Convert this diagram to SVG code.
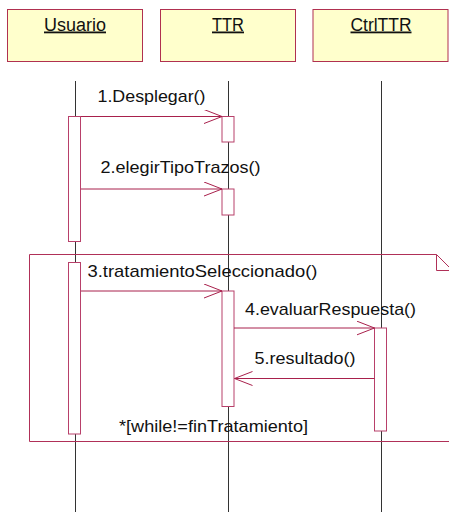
<svg xmlns="http://www.w3.org/2000/svg" width="449" height="512" viewBox="0 0 449 512">
<style>
.obj{fill:#FFFFCC;stroke:#B03050;stroke-width:1}
.life{stroke:#333333;stroke-width:1;fill:none}
.act{fill:#FFFFFF;stroke:#B8406A;stroke-width:1}
.msg{stroke:#A8204C;stroke-width:1;fill:none}
.frame{stroke:#B03058;stroke-width:1;fill:none}
text{font-family:"Liberation Sans",Arial,sans-serif;font-size:17px;fill:#111111}
.hd{font-size:18px;text-decoration:underline}
</style>
<defs>
<marker id="open" markerWidth="20" markerHeight="16" refX="18" refY="7" orient="auto" markerUnits="userSpaceOnUse">
<path d="M0,0 L18,7 L0,14" fill="none" stroke="#A8204C" stroke-width="1"/>
</marker>
</defs>
<g id="Usuario">
<rect class="obj" x="7.5" y="9.5" width="135" height="52"/>
<text class="hd" x="75" y="30.5" text-anchor="middle" textLength="62" lengthAdjust="spacingAndGlyphs">Usuario</text>
</g>
<g id="TTR">
<rect class="obj" x="160.5" y="9.5" width="135" height="52"/>
<text class="hd" x="228" y="30.5" text-anchor="middle" textLength="32" lengthAdjust="spacingAndGlyphs">TTR</text>
</g>
<g id="CtrlTTR">
<rect class="obj" x="313" y="9.5" width="135" height="52"/>
<text class="hd" x="381" y="30.5" text-anchor="middle" textLength="61" lengthAdjust="spacingAndGlyphs">CtrlTTR</text>
</g>
<g id="lifelines">
<line class="life" x1="75.5" y1="81" x2="75.5" y2="512"/>
<line class="life" x1="228.5" y1="81" x2="228.5" y2="512"/>
<line class="life" x1="381.5" y1="81" x2="381.5" y2="512"/>
</g>
<g id="loop">
<path class="frame" d="M29.5,254.5 H436.5 V270.5 H449 M436.5,254.5 L449,267 M29.5,254.5 V441.5 H449"/>
<text x="119" y="432" textLength="189" lengthAdjust="spacingAndGlyphs">*[while!=finTratamiento]</text>
</g>
<g id="activations">
<rect class="act" x="68.5" y="116.5" width="12" height="125"/>
<rect class="act" x="222" y="116.5" width="12" height="25.5"/>
<rect class="act" x="222" y="189" width="12" height="26"/>
<rect class="act" x="68.5" y="262.5" width="12" height="171.5"/>
<rect class="act" x="222" y="291" width="12" height="115.5"/>
<rect class="act" x="374.5" y="328" width="12" height="103"/>
</g>
<g id="connectors">
<line class="msg" x1="81" y1="116.5" x2="222" y2="116.5" marker-end="url(#open)"/>
<line class="msg" x1="81" y1="189" x2="222" y2="189" marker-end="url(#open)"/>
<line class="msg" x1="81" y1="291" x2="222" y2="291" marker-end="url(#open)"/>
<line class="msg" x1="234" y1="328" x2="374.5" y2="328" marker-end="url(#open)"/>
<line class="msg" x1="374.5" y1="378.5" x2="234.5" y2="378.5" marker-end="url(#open)"/>
</g>
<g id="labels">
<text x="97.5" y="101.5" textLength="108" lengthAdjust="spacingAndGlyphs">1.Desplegar()</text>
<text x="100.5" y="172.5" textLength="160" lengthAdjust="spacingAndGlyphs">2.elegirTipoTrazos()</text>
<text x="87.5" y="276.5" textLength="230" lengthAdjust="spacingAndGlyphs">3.tratamientoSeleccionado()</text>
<text x="245" y="314.5" textLength="171" lengthAdjust="spacingAndGlyphs">4.evaluarRespuesta()</text>
<text x="254.5" y="364" textLength="101" lengthAdjust="spacingAndGlyphs">5.resultado()</text>
</g>
</svg>
